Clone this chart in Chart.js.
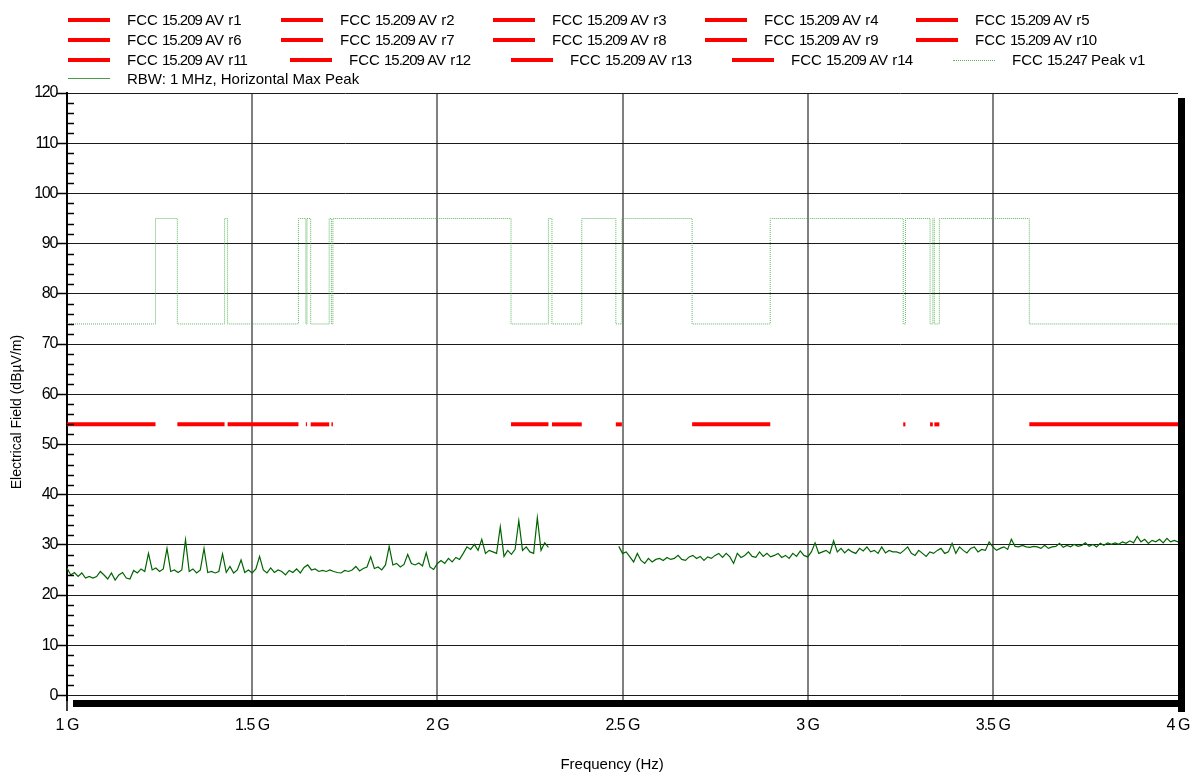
<!DOCTYPE html>
<html><head><meta charset="utf-8">
<script src="https://cdn.jsdelivr.net/npm/chart.js@4.4.0/dist/chart.umd.min.js"></script>
<style>
html,body{margin:0;padding:0;background:#fff;}
#wrap{position:relative;width:1197px;height:777px;overflow:hidden;}
#c{position:absolute;left:0;top:0;}
#legend{position:absolute;left:0;top:0;width:1197px;height:90px;font-family:"Liberation Sans",Arial,sans-serif;font-size:15px;color:#000;}
.li{position:absolute;white-space:nowrap;height:0;}
.sw{position:absolute;left:0;width:42px;height:0;}
.tx{position:absolute;left:59px;top:-9px;line-height:18px;}
.tx .d{letter-spacing:-1px;}
</style></head>
<body><div id="wrap"><canvas id="c" width="1197" height="777"></canvas><div id="legend"></div></div>
<script>
// ---- data ----
const avLabels = ["FCC 15.209 AV r1","FCC 15.209 AV r2","FCC 15.209 AV r3","FCC 15.209 AV r4","FCC 15.209 AV r5","FCC 15.209 AV r6","FCC 15.209 AV r7","FCC 15.209 AV r8","FCC 15.209 AV r9","FCC 15.209 AV r10","FCC 15.209 AV r11","FCC 15.209 AV r12","FCC 15.209 AV r13","FCC 15.209 AV r14"];
const avStart = [1.000,1.298,1.4336,1.645,1.658,1.714,2.199,2.3095,2.482,2.688,3.258,3.3305,3.342,3.5985];
const avStop  = [1.239,1.4255,1.625,1.648,1.708,1.718,2.300,2.390,2.4984,2.899,3.264,3.338,3.3556,4.000];
const avLevel = 54;
const peakLabel = "FCC 15.247 Peak v1";
const peakFreqs  = [1.000,1.239,1.298,1.4255,1.4336,1.625,1.645,1.648,1.658,1.708,1.714,1.718,2.199,2.300,2.3095,2.390,2.482,2.4984,2.688,2.899,3.258,3.264,3.3305,3.338,3.342,3.3556,3.5985,4.000];
const peakLevels = [74,95,74,95,74,95,74,95,74,95,74,95,74,95,74,95,74,95,74,95,74,95,74,95,74,95,74,74];
const traceLabel = "RBW: 1 MHz, Horizontal Max Peak";
const traceStep = 0.01;
const traceStartA = 1.00;
const traceLevelsA = [25.4,24.0,24.5,23.7,24.4,23.4,23.7,23.4,23.7,24.7,24.0,23.2,24.4,23.0,24.0,24.5,23.4,23.2,24.9,24.4,
25.2,24.7,28.3,25.0,25.4,24.7,25.2,29.3,24.7,25.0,24.5,25.0,31.0,24.7,25.2,24.4,25.0,29.3,24.5,24.7,
24.4,24.7,28.2,24.5,25.7,24.4,25.0,27.0,24.5,25.0,24.4,25.2,27.7,25.0,24.4,25.4,24.5,25.0,24.7,24.0,
24.9,24.5,25.2,24.4,25.5,26.0,25.0,25.2,24.7,24.9,24.7,25.0,24.7,24.5,24.4,24.9,24.7,25.0,25.7,24.8,
25.3,25.6,27.6,25.3,25.6,25.0,26.0,29.7,26.0,26.3,25.6,26.1,28.1,26.3,26.0,26.4,25.8,28.4,25.6,25.1,
26.3,26.9,26.3,27.3,26.6,27.5,27.1,28.3,29.6,29.1,30.1,28.9,31.1,28.3,28.9,28.6,28.3,33.6,27.7,28.9,
28.1,29.1,34.8,28.9,29.6,28.6,28.3,35.4,28.9,30.4,29.5];
const traceStartB = 2.49;
const traceLevelsB = [29.7,28.3,28.6,27.6,26.6,28.3,26.9,26.3,27.3,26.6,27.1,27.3,26.9,27.5,27.1,27.3,27.9,27.1,26.9,27.6,
27.9,27.3,27.7,26.9,27.6,27.3,27.9,28.3,27.5,28.3,27.6,26.3,28.3,27.5,27.9,28.6,27.7,27.5,28.6,27.7,
28.3,27.6,27.9,28.3,27.5,27.9,27.3,28.3,27.7,28.8,27.9,27.6,28.6,30.4,28.3,28.6,28.9,28.3,30.8,28.6,
29.3,28.4,29.1,28.6,28.3,29.3,28.8,29.6,28.6,28.9,28.3,29.6,28.4,28.9,28.6,28.6,28.3,28.9,29.6,28.3,
27.9,28.9,28.3,27.7,28.6,28.3,28.9,29.3,28.3,28.6,30.3,28.3,29.6,28.9,28.4,29.3,29.6,28.6,29.1,28.9,
30.6,29.6,28.9,29.3,29.6,29.1,31.1,29.7,29.6,29.9,29.6,29.5,29.7,29.6,29.3,29.9,29.3,29.6,29.7,30.3,
29.5,29.9,29.6,30.1,29.7,29.9,30.4,29.7,30.1,29.6,30.3,29.9,30.4,30.1,30.4,30.1,30.6,30.3,30.8,30.4,
31.7,30.6,31.1,30.3,30.9,30.6,31.1,30.4,31.3,30.6,30.9,30.6];
const xTicks = [1,1.5,2,2.5,3,3.5,4];
const xTickLabels = ["1 G","1.5 G","2 G","2.5 G","3 G","3.5 G","4 G"];
const yTicks = [0,10,20,30,40,50,60,70,80,90,100,110,120];
const yMinorTicks = [2,4,6,8,12,14,16,18,22,24,26,28,32,34,36,38,42,44,46,48,52,54,56,58,62,64,66,68,72,74,76,78,82,84,86,88,92,94,96,98,102,104,106,108,112,114,116,118];
const xTitle = "Frequency (Hz)";
const yTitle = "Electrical Field (dBµV/m)";

// ---- build datasets ----
const FONT = '"Liberation Sans", Arial, sans-serif';
const datasets = [];
avLabels.forEach((lab, i) => {
  datasets.push({label: lab, data: [{x: avStart[i], y: avLevel}, {x: avStop[i], y: avLevel}],
    borderColor: '#ff0000', borderWidth: 4, pointRadius: 0, borderCapStyle: 'butt', fill: false});
});
datasets.push({label: peakLabel, data: peakFreqs.map((f, i) => ({x: f, y: peakLevels[i]})), stepped: 'before',
  borderColor: 'rgba(70,170,70,0.85)', borderWidth: 1, borderDash: [1, 1], pointRadius: 0, fill: false});
const traceData = [];
traceLevelsA.forEach((v, i) => traceData.push({x: Math.round((traceStartA + i * traceStep) * 1000) / 1000, y: v}));
traceData.push({x: 2.40, y: null});
traceLevelsB.forEach((v, i) => traceData.push({x: Math.round((traceStartB + i * traceStep) * 1000) / 1000, y: v}));
datasets.push({label: traceLabel, data: traceData, borderColor: '#006400', borderWidth: 1.2, pointRadius: 0,
  spanGaps: false, fill: false, tension: 0});

// tighter digit spacing for tick labels (reference font has narrow digits)
function tightenLabels(sc, ls) {
  if (sc._tight) return;
  sc._tight = true;
  const orig = sc.drawLabels.bind(sc);
  sc.drawLabels = function (ca) {
    const c = this.ctx; c.save(); c.letterSpacing = ls; orig(ca); c.restore();
  };
}

const framePlugin = {
  id: 'frame',
  afterDraw(chart) {
    const {ctx, chartArea: a, scales: {y}} = chart;
    ctx.save();
    ctx.strokeStyle = '#000';
    ctx.lineWidth = 1.5;
    yMinorTicks.forEach(v => {
      const py = Math.round(y.getPixelForValue(v)) + 0.5;
      ctx.beginPath(); ctx.moveTo(a.left, py); ctx.lineTo(a.left + 7, py); ctx.stroke();
    });
    ctx.fillStyle = '#000';
    ctx.fillRect(a.left + 6, a.bottom, a.right - a.left + 1, 7);
    ctx.fillRect(a.right, a.top + 5, 7, a.bottom - a.top + 7);
    ctx.beginPath(); ctx.moveTo(a.left, a.bottom); ctx.lineTo(a.left, a.bottom + 11); ctx.stroke();
    ctx.restore();
  }
};

const chart = new Chart(document.getElementById('c'), {
  type: 'line',
  data: {datasets},
  plugins: [framePlugin],
  options: {
    responsive: false, animation: false, events: [],
    layout: {padding: {top: 93, right: 19, bottom: 0, left: 0}},
    plugins: {legend: {display: false}, tooltip: {enabled: false}},
    scales: {
      x: {type: 'linear', min: 1, max: 4,
        afterBuildTicks: ax => { ax.ticks = xTicks.map(v => ({value: v})); },
        afterFit: sc => { sc.height = 77; tightenLabels(sc, '-1px'); },
        ticks: {callback: (v) => { const i = xTicks.indexOf(v); return i >= 0 ? xTickLabels[i] : ''; },
          font: {family: FONT, size: 16}, color: '#000', padding: 2, maxRotation: 0, autoSkip: false},
        grid: {color: c => (c.tick && (c.tick.value === 1 || c.tick.value === 4)) ? 'rgba(0,0,0,0)' : '#808080',
          lineWidth: 2, drawTicks: true, tickLength: 14, tickColor: 'rgba(0,0,0,0)'},
        border: {display: false},
        title: {display: true, text: xTitle + '     ', font: {family: FONT, size: 15}, color: '#000', padding: {top: 0, bottom: 3}}
      },
      y: {type: 'linear', min: -0.9, max: 120,
        afterBuildTicks: ax => { ax.ticks = yTicks.map(v => ({value: v})); },
        afterFit: sc => { sc.width = 67; tightenLabels(sc, '-1.3px'); },
        ticks: {font: {family: FONT, size: 16}, color: '#000', padding: 0, autoSkip: false},
        grid: {color: '#1a1a1a', lineWidth: 1, drawTicks: true, tickLength: 10, tickColor: '#000', tickWidth: 1.5},
        border: {display: true, color: '#000', width: 2},
        title: {display: true, text: yTitle + '        ', font: {family: FONT, size: 14}, color: '#000', padding: {top: 9, bottom: 0}}
      }
    }
  }
});

// ---- HTML legend ----
const legendRows = [[0,1,2,3,4],[5,6,7,8,9],[10,11,12,13,14],[15]];
const legendRowY = [20, 40, 60, 79];
const legendColX = [[68,281,493,705,916],[68,281,493,705,916],[68,290,511,732,953],[68]];
const legendSwatch = i => {
  if (i < 14) return 'border-top:4px solid #ff0000;top:-2px;';
  if (i === 14) return 'border-top:1px dotted rgba(70,170,70,0.9);top:0px;';
  return 'border-top:1.5px solid #4a9e4a;top:-1px;';
};
const leg = document.getElementById('legend');
legendRows.forEach((row, r) => {
  row.forEach((di, c) => {
    const el = document.createElement('div');
    el.className = 'li';
    el.style.left = legendColX[r][c] + 'px';
    el.style.top = legendRowY[r] + 'px';
    const sw = document.createElement('div');
    sw.className = 'sw';
    sw.setAttribute('style', legendSwatch(di));
    const tx = document.createElement('div');
    tx.className = 'tx';
    chart.data.datasets[di].label.split(/([0-9.]+)/).forEach(part => {
      if (!part) return;
      if (/^[0-9.]+$/.test(part)) {
        const s = document.createElement('span'); s.className = 'd'; s.textContent = part; tx.appendChild(s);
      } else {
        tx.appendChild(document.createTextNode(part));
      }
    });
    el.appendChild(sw); el.appendChild(tx);
    leg.appendChild(el);
  });
});
</script>
</body></html>
